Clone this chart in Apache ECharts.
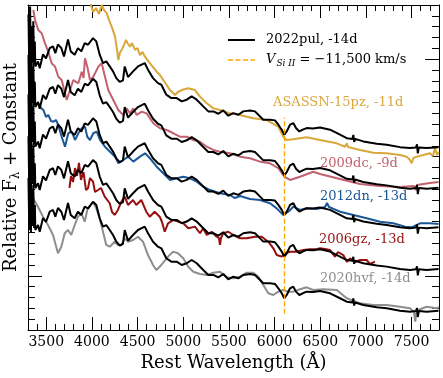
<!DOCTYPE html>
<html><head><meta charset="utf-8">
<script src="https://cdn.jsdelivr.net/npm/echarts@6/dist/echarts.min.js"></script>
<style>html,body{margin:0;padding:0;background:#fff}#c{width:443px;height:378px}</style>
</head><body><div id="c"></div>
<script>
const FONT = '"DejaVu Serif", serif';

// Tick values
const xMajorTicks = [3500, 4000, 4500, 5000, 5500, 6000, 6500, 7000, 7500];
const yMajorTicks = [5, 25];

// SN 2022pul, -14d (lowest copy); other copies = flux + constant
const pul2022 = [[3305,14.03],[3314,9.23],[3323,14.77],[3332,8.95],[3340,12.92],[3349,9.60],[3358,13.39],[3367,9.42],[3375,11.54],[3380,9.23],[3410,9.69],[3428,9.07],[3464,10.34],[3497,9.97],[3538,10.92],[3574,11.08],[3599,10.46],[3628,11.26],[3665,10.92],[3694,10.15],[3738,11.72],[3768,10.62],[3811,10.31],[3847,10.92],[3884,10.62],[3921,11.38],[3957,11.23],[4012,11.84],[4048,11.54],[4085,10.31],[4121,9.54],[4157,9.69],[4195,9.23],[4231,8.77],[4267,8.15],[4304,7.8],[4340,7.95],[4359,9.23],[4395,8.25],[4450,8.77],[4504,9.23],[4578,9.54],[4614,8.93],[4669,8.15],[4723,7.69],[4760,7.54],[4814,6.62],[4869,6.31],[4928,6.31],[4983,6.00],[5038,6.16],[5092,6.46],[5147,6.16],[5219,5.54],[5274,5.08],[5329,5.08],[5384,4.86],[5438,5.17],[5493,4.68],[5548,4.92],[5603,4.77],[5657,5.08],[5731,5.17],[5785,5.08],[5822,4.77],[5876,4.31],[5950,4.31],[6004,4.25],[6041,3.85],[6078,3.39],[6106,2.93],[6133,3.23],[6169,3.85],[6205,4.00],[6234,3.54],[6271,3.23],[6308,3.39],[6351,3.54],[6420,3.51],[6497,3.60],[6607,3.39],[6716,2.93],[6790,2.61],[6852,2.54],[6862,2.91],[6871,2.26],[6882,2.54],[6971,2.31],[7118,2.10],[7227,2.00],[7373,1.78],[7482,1.69],[7548,1.75],[7559,2.03],[7568,1.20],[7579,1.75],[7665,1.69],[7795,1.78]];
const pulOffsets = [0, 3.85, 7.7, 11.35, 15.1];

const sn2020hvf = [[3319,13.08],[3355,12.16],[3409,11.38],[3464,10.46],[3519,9.69],[3574,8.77],[3628,7.08],[3665,7.69],[3702,8.93],[3738,9.23],[3774,8.77],[3811,9.69],[3847,10.46],[3884,10.77],[3921,10.00],[3949,11.08],[3976,11.38],[4012,11.82],[4048,11.23],[4085,10.31],[4121,9.07],[4157,7.85],[4195,7.69],[4249,8.15],[4285,7.85],[4322,7.85],[4359,8.46],[4395,8.15],[4450,8.31],[4504,8.61],[4559,8.15],[4614,6.92],[4669,6.00],[4705,5.54],[4760,6.00],[4833,6.77],[4888,7.23],[4942,7.08],[5000,6.62],[5055,5.84],[5110,5.38],[5183,5.17],[5257,5.08],[5329,5.29],[5402,5.38],[5476,4.86],[5548,4.77],[5621,4.92],[5695,5.29],[5767,5.29],[5822,4.92],[5876,4.15],[5931,3.39],[5986,3.23],[6041,3.54],[6095,3.69],[6150,3.54],[6205,3.54],[6278,3.76],[6351,3.94],[6424,3.69],[6533,3.76],[6680,3.69],[6790,2.93],[6935,2.46],[7081,2.31],[7227,2.31],[7373,2.15],[7482,2.00],[7526,1.66],[7540,0.77],[7553,1.66],[7573,1.85],[7665,2.15],[7775,2.00],[7795,2.12]];

const sn2006gz = [[3754,13.11],[3771,14.22],[3793,13.66],[3815,14.95],[3837,14.22],[3858,15.42],[3880,13.85],[3908,14.58],[3935,12.92],[3957,13.08],[3979,14.03],[4012,13.69],[4034,12.74],[4066,12.92],[4099,13.11],[4140,12.31],[4195,11.70],[4220,10.89],[4249,10.62],[4285,11.08],[4322,11.84],[4359,12.31],[4395,11.54],[4450,12.00],[4486,11.54],[4541,12.00],[4595,10.92],[4633,10.46],[4687,10.92],[4742,10.46],[4767,9.97],[4797,9.07],[4833,9.85],[4888,10.15],[4942,10.00],[5000,9.85],[5055,9.39],[5128,9.54],[5183,8.93],[5219,9.39],[5257,8.77],[5311,9.07],[5366,8.61],[5391,8.49],[5402,7.85],[5413,8.49],[5438,8.93],[5493,9.07],[5548,8.77],[5621,8.46],[5695,8.46],[5785,8.61],[5859,8.61],[5931,8.15],[5986,7.54],[6023,6.92],[6078,6.77],[6114,7.08],[6169,7.23],[6242,7.23],[6314,7.38],[6388,7.45],[6461,7.45],[6497,7.54],[6552,7.48],[6607,7.38],[6661,6.77],[6694,7.20],[6752,6.92],[6793,6.28],[6826,6.62],[6880,6.28],[6935,6.46],[7008,6.46],[7045,6.09],[7099,6.31]];

const sn2012dn = [[3413,20.93],[3442,20.49],[3468,20.31],[3497,19.66],[3522,19.85],[3552,19.29],[3577,19.23],[3606,19.38],[3632,18.92],[3650,18.37],[3669,17.84],[3705,16.92],[3741,18.16],[3778,18.31],[3815,17.54],[3851,18.16],[3888,18.62],[3924,18.77],[3949,17.84],[3979,17.54],[4015,18.16],[4052,18.31],[4088,17.54],[4143,16.92],[4198,16.46],[4253,16.00],[4289,15.39],[4343,15.69],[4398,16.00],[4453,15.54],[4526,16.00],[4581,16.31],[4636,15.85],[4709,15.07],[4781,14.47],[4855,13.85],[4928,14.00],[5000,14.15],[5074,14.00],[5147,13.69],[5219,13.23],[5293,12.92],[5402,12.62],[5512,12.46],[5566,12.18],[5621,12.37],[5731,12.09],[5840,12.00],[5950,11.70],[6023,11.23],[6095,10.62],[6150,10.92],[6205,11.38],[6278,11.08],[6351,11.23],[6461,11.17],[6552,11.35],[6574,11.72],[6596,11.35],[6716,10.92],[6862,10.62],[7008,10.31],[7154,10.00],[7300,9.85],[7428,9.54],[7501,9.48],[7592,9.85],[7702,9.85],[7795,9.78]];

const sn2009dc = [[3358,29.54],[3377,28.62],[3413,27.69],[3450,27.39],[3486,26.46],[3522,25.69],[3559,24.62],[3596,24.31],[3632,23.38],[3669,23.08],[3705,21.85],[3724,21.23],[3760,22.15],[3796,23.08],[3851,22.77],[3888,23.84],[3908,23.26],[3924,25.08],[3949,24.31],[3979,23.08],[4015,23.38],[4070,24.31],[4107,24.62],[4143,23.38],[4179,22.15],[4234,21.23],[4289,20.31],[4343,19.85],[4380,20.46],[4417,20.00],[4453,20.46],[4490,19.85],[4545,20.15],[4600,20.00],[4672,19.08],[4745,18.62],[4819,18.46],[4891,18.16],[4964,17.84],[5038,17.84],[5110,17.54],[5183,17.38],[5257,16.92],[5329,16.62],[5402,16.46],[5512,16.31],[5621,16.00],[5731,15.85],[5840,15.54],[5950,15.39],[6041,14.93],[6106,14.15],[6169,13.85],[6278,14.15],[6424,14.61],[6497,14.40],[6716,13.94],[6935,13.48],[7154,13.29],[7373,13.20],[7526,13.29],[7543,12.92],[7559,13.38],[7702,13.57],[7795,13.66]];

const asassn15pz = [[3957,33.2],[3990,30.0],[4012,29.35],[4045,29.72],[4077,29.17],[4107,30.0],[4132,29.54],[4162,29.23],[4187,28.62],[4216,28.0],[4253,27.08],[4275,25.85],[4289,24.92],[4308,25.66],[4326,25.85],[4351,26.31],[4373,26.77],[4395,26.40],[4417,26.15],[4439,26.49],[4472,25.85],[4499,26.03],[4526,25.38],[4554,25.66],[4581,25.23],[4636,24.62],[4709,23.84],[4745,23.54],[4781,23.08],[4855,22.15],[4910,21.69],[4942,21.97],[4983,22.15],[5055,22.31],[5128,22.15],[5183,21.54],[5257,20.93],[5329,20.46],[5402,20.31],[5512,20.00],[5621,19.85],[5767,19.54],[5913,19.38],[6041,18.77],[6095,17.84],[6132,17.54],[6205,17.60],[6351,17.79],[6497,17.54],[6680,17.23],[6771,16.92],[6790,17.22],[6804,16.89],[6935,16.62],[7081,16.37],[7227,16.31],[7373,16.15],[7446,16.00],[7482,15.69],[7501,15.39],[7520,15.88],[7555,16.00],[7628,16.15],[7702,16.31],[7734,16.06],[7756,16.80],[7778,16.15],[7795,16.43]];

// Si II velocity marker: wavelength, flux range
const siLineWave = 6110;
const siLineRange = [1.5, 19.6];

const compNames = ['ASASSN-15pz, -11d', '2009dc, -9d', '2012dn, -13d', '2006gz, -13d', '2020hvf, -14d'];
const compData = [asassn15pz, sn2009dc, sn2012dn, sn2006gz, sn2020hvf];
const compColors = ['#D9A73A', '#C2616F', '#1B5797', '#980F10', '#8E8E8E'];
const labelPos = [[273, 103], [320, 164], [320, 197], [319, 240], [320, 279]];

const series = [];
compData.forEach((d, i) => {
  series.push({
    type: 'line', name: compNames[i], data: d, showSymbol: false, symbol: 'none',
    lineStyle: { color: compColors[i], width: 2 }, silent: true, z: 2
  });
});
pulOffsets.forEach((off, k) => {
  const s = {
    type: 'line', name: '2022pul, -14d', data: pul2022.map(p => [p[0], p[1] + off]),
    showSymbol: false, symbol: 'none', lineStyle: { color: '#000', width: 2 }, silent: true, z: 3
  };
  if (k === 0) {
    s.markLine = {
      silent: true, symbol: 'none', label: { show: false }, z: 5,
      lineStyle: { color: '#FFA500', width: 1.3, type: [5, 2.5], opacity: 1 },
      emphasis: { disabled: true },
      data: [[{ coord: [siLineWave, siLineRange[0]] }, { coord: [siLineWave, siLineRange[1]] }]]
    };
  }
  series.push(s);
});

const base = { type: 'value', min: 3300, max: 7800, splitLine: { show: false } };
const tickStyle = { color: '#000', width: 1 };
const xAxis = [
  Object.assign({}, base, {
    position: 'bottom', interval: 100,
    axisLine: { show: true, onZero: false, lineStyle: { color: '#000', width: 1 } },
    axisTick: { show: true, inside: true, length: 6, lineStyle: tickStyle },
    axisLabel: { show: true, customValues: xMajorTicks, formatter: v => String(v), fontSize: 14, fontFamily: FONT, color: '#000', margin: 5 },
    name: 'Rest Wavelength (Å)', nameLocation: 'middle', nameGap: 22,
    nameTextStyle: { fontSize: 18, fontFamily: FONT, color: '#000' }
  }),
  Object.assign({}, base, {
    position: 'bottom', axisLine: { show: false, onZero: false },
    axisTick: { show: true, inside: true, length: 13, customValues: xMajorTicks, lineStyle: tickStyle },
    axisLabel: { show: false }
  }),
  Object.assign({}, base, {
    position: 'top', interval: 100,
    axisLine: { show: true, onZero: false, lineStyle: { color: '#000', width: 1 } },
    axisTick: { show: true, inside: true, length: 6, lineStyle: tickStyle },
    axisLabel: { show: false }
  }),
  Object.assign({}, base, {
    position: 'top', axisLine: { show: false, onZero: false },
    axisTick: { show: true, inside: true, length: 13, customValues: xMajorTicks, lineStyle: tickStyle },
    axisLabel: { show: false }
  })
];
const ybase = { type: 'value', min: 0, max: 30, splitLine: { show: false }, axisLabel: { show: false } };
const yAxis = [
  Object.assign({}, ybase, {
    position: 'left', interval: 1,
    axisLine: { show: true, onZero: false, lineStyle: { color: '#000', width: 1 } },
    axisTick: { show: true, inside: true, length: 7, lineStyle: tickStyle },
    name: '{n|Relative F}{s|λ}{n| + Constant}', nameLocation: 'middle', nameGap: 6,
    nameTextStyle: {
      color: '#000',
      rich: {
        n: { fontSize: 18, fontFamily: FONT, color: '#000' },
        s: { fontSize: 12, fontFamily: FONT, color: '#000', padding: [9, 0, 0, 0] }
      }
    }
  }),
  Object.assign({}, ybase, {
    position: 'left', axisLine: { show: false, onZero: false },
    axisTick: { show: true, inside: true, length: 14, customValues: yMajorTicks, lineStyle: tickStyle }
  }),
  Object.assign({}, ybase, {
    position: 'right', interval: 1,
    axisLine: { show: true, onZero: false, lineStyle: { color: '#000', width: 1 } },
    axisTick: { show: true, inside: true, length: 7, lineStyle: tickStyle }
  }),
  Object.assign({}, ybase, {
    position: 'right', axisLine: { show: false, onZero: false },
    axisTick: { show: true, inside: true, length: 14, customValues: yMajorTicks, lineStyle: tickStyle }
  })
];

const graphic = [
  { type: 'line', shape: { x1: 228, y1: 40, x2: 255, y2: 40 }, style: { stroke: '#000', lineWidth: 2 } },
  { type: 'text', x: 266, y: 40, style: { text: '2022pul, -14d', fontSize: 13, fontFamily: FONT, fill: '#000', verticalAlign: 'middle' } },
  { type: 'line', shape: { x1: 228, y1: 60, x2: 255, y2: 60 }, style: { stroke: '#FFA500', lineWidth: 1.3, lineDash: [5, 2.5] } },
  { type: 'text', x: 266, y: 60, style: {
      text: '{v|V}{s|Si II}{t| = −11,500 km/s}', verticalAlign: 'middle', fill: '#000',
      rich: {
        v: { fontSize: 13, fontFamily: FONT, fontStyle: 'italic', fill: '#000' },
        s: { fontSize: 9, fontFamily: FONT, fontStyle: 'italic', fill: '#000', padding: [7, 0, 0, 1] },
        t: { fontSize: 13, fontFamily: FONT, fill: '#000' }
      } } }
];
compNames.forEach((n, i) => {
  graphic.push({ type: 'text', x: labelPos[i][0], y: labelPos[i][1],
    style: { text: n, fontSize: 13, fontFamily: FONT, fill: compColors[i], verticalAlign: 'middle' }, z: 10 });
});

const chart = echarts.init(document.getElementById('c'), null, { renderer: 'canvas' });
chart.setOption({
  animation: false,
  backgroundColor: '#fff',
  grid: { left: 28, right: 4, top: 5, bottom: 48, containLabel: false, outerBoundsMode: 'none' },
  xAxis, yAxis, series, graphic
});
</script></body></html>
